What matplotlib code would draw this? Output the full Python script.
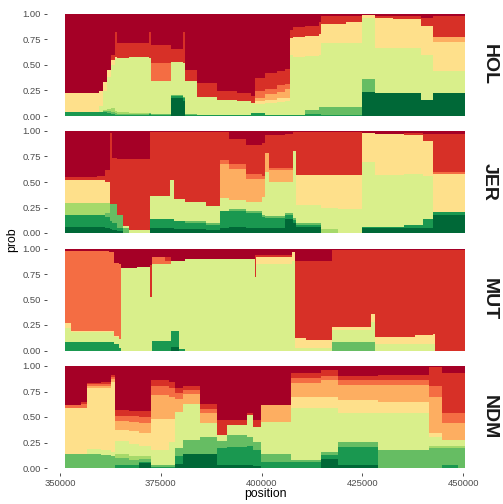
import numpy as np
import matplotlib.pyplot as plt

plt.rcParams['font.family'] = ['Liberation Sans', 'DejaVu Sans']

# colours for the 10 ancestry components (bottom -> top of the stack)
colors = ['#006837', '#1a9850', '#66bd63', '#a6d96a', '#d9ef8b',
          '#fee08b', '#fdae61', '#f46d43', '#d73027', '#a50026']
breeds = ['HOL', 'JER', 'MUT', 'NDM']
x_ticks = [350000, 375000, 400000, 425000, 450000]
y_ticks = [0, 0.25, 0.5, 0.75, 1.0]

# each row: cumulative top of components 1..9 (component 10 tops out at 1)
hol_pos = [351200, 359700, 360700, 361600, 362600, 363600, 364100, 367100, 372100,
           372600, 377500, 380500, 381000, 384000, 388900, 393900, 397400, 398400,
           400800, 403800, 405800, 407100, 407800, 410700, 414200, 414700, 421000,
           424800, 428100, 432600, 439500, 442500, 450500]
hol_cum = [
    [0, .04, .04, .04, .04, .23, .23, .23, .23],
    [0, .04, .04, .04, .10, .25, .25, .25, .25],
    [0, .04, .05, .06, .25, .33, .33, .33, .33],
    [0, .03, .05, .07, .38, .45, .45, .45, .45],
    [0, .02, .04, .08, .50, .55, .55, .55, .60],
    [0, .01, .03, .05, .56, .58, .58, .58, .82],
    [0, .01, .02, .04, .57, .57, .57, .57, .72],
    [0, .01, .02, .03, .575, .575, .575, .575, .72],
    [0, .02, .03, .03, .57, .57, .57, .57, .82],
    [0, .01, .02, .02, .34, .34, .34, .52, .70],
    [.18, .20, .21, .21, .53, .53, .53, .53, .66],
    [.15, .18, .19, .19, .52, .52, .52, .52, .82],
    [0, .01, .02, .02, .34, .34, .34, .34, .45],
    [0, .01, .01, .01, .19, .19, .19, .19, .32],
    [0, .01, .01, .01, .16, .16, .16, .16, .25],
    [0, .01, .01, .01, .15, .15, .15, .15, .23],
    [0, .03, .03, .03, .13, .13, .13, .13, .20],
    [0, .03, .03, .03, .12, .15, .18, .25, .37],
    [0, .01, .01, .01, .13, .16, .22, .26, .42],
    [0, .01, .01, .01, .14, .18, .24, .30, .44],
    [0, .01, .01, .01, .15, .18, .26, .31, .46],
    [0, .01, .01, .01, .60, .76, .76, .76, .84],
    [0, .01, .01, .01, .58, .77, .77, .77, .87],
    [0, .02, .06, .06, .59, .78, .78, .78, .88],
    [0, .02, .09, .09, .60, .80, .80, .80, .92],
    [0, .01, .09, .09, .72, .90, .90, .90, .98],
    [0, .01, .09, .09, .72, .92, .92, .92, .98],
    [.24, .24, .36, .36, .96, .99, .99, .99, .99],
    [.23, .23, .23, .23, .67, .96, .96, .96, .98],
    [.23, .23, .23, .23, .67, .95, .95, .95, .98],
    [.16, .16, .16, .16, .60, .88, .88, .88, .96],
    [.225, .225, .225, .225, .44, .73, .77, .77, .98],
    [.225, .225, .225, .225, .44, .73, .77, .77, .98],
]

jer_pos = [351200, 359200, 361200, 362500, 362900, 364200, 365700, 367200, 372300,
           377200, 378200, 381100, 386100, 389600, 392000, 396000, 400000, 400900,
           401900, 405800, 407800, 408600, 414700, 419000, 424800, 428100, 435200,
           440100, 442500, 450500]
jer_cum = [
    [.06, .18, .18, .29, .29, .52, .52, .52, .55],
    [.06, .18, .18, .29, .29, .52, .52, .52, .56],
    [.05, .16, .20, .29, .29, .50, .50, .50, .62],
    [.04, .12, .28, .28, .28, .28, .28, .28, .98],
    [.03, .10, .28, .28, .28, .28, .28, .28, .74],
    [.02, .05, .18, .18, .18, .18, .18, .18, .73],
    [0, 0, .05, .05, .07, .07, .07, .07, .73],
    [0, 0, 0, 0, .03, .03, .03, .03, .73],
    [.05, .14, .14, .14, .36, .36, .36, .36, .99],
    [.05, .14, .14, .14, .52, .52, .52, .52, .99],
    [.04, .12, .12, .12, .33, .33, .33, .33, .99],
    [.04, .10, .12, .12, .30, .30, .30, .30, .99],
    [.03, .08, .10, .10, .26, .26, .26, .26, .99],
    [.05, .22, .22, .22, .34, .34, .68, .72, .99],
    [.06, .22, .24, .24, .32, .32, .63, .68, .92],
    [.05, .20, .22, .22, .30, .30, .53, .58, .86],
    [.05, .16, .18, .18, .35, .35, .53, .56, .88],
    [.05, .15, .17, .17, .60, .60, .78, .78, .96],
    [.05, .15, .17, .17, .50, .50, .62, .64, .96],
    [.14, .18, .20, .20, .50, .50, .62, .64, .97],
    [.10, .13, .15, .15, .80, .80, .80, .80, .99],
    [.06, .08, .10, .10, .27, .57, .57, .57, .99],
    [0, 0, 0, .04, .25, .57, .57, .57, .99],
    [0, 0, 0, 0, .24, .57, .57, .57, .99],
    [.05, .06, .06, .06, .70, .98, .98, .98, .98],
    [.05, .06, .06, .06, .57, .97, .97, .97, .97],
    [.05, .08, .08, .08, .58, .96, .96, .96, .98],
    [.05, .14, .14, .14, .56, .90, .90, .90, .97],
    [.18, .21, .21, .21, .21, .58, .58, .60, .97],
    [.18, .21, .21, .21, .21, .58, .58, .60, .97],
]

mut_pos = [351200, 352700, 362200, 363500, 364700, 365200, 369000, 372300, 372700,
           376100, 377600, 379600, 381100, 398300, 398700, 407600, 408300, 411100,
           417500, 427200, 428000, 438000, 442400, 443100, 450500]
mut_cum = [
    [0, .085, .085, .085, .22, .27, .27, .98, .98],
    [0, .085, .085, .085, .18, .19, .19, .98, .98],
    [0, .085, .085, .085, .18, .19, .19, .97, .97],
    [0, .06, .06, .06, .13, .14, .14, .86, .86],
    [0, .02, .02, .02, .11, .11, .11, .85, .85],
    [0, 0, 0, 0, .81, .81, .81, .81, .81],
    [0, 0, 0, 0, .82, .82, .82, .82, .82],
    [0, 0, 0, 0, .52, .52, .52, .52, .84],
    [0, .09, .09, .09, .85, .85, .85, .92, .92],
    [0, .09, .09, .09, .85, .85, .85, .88, .92],
    [.03, .19, .19, .19, .88, .88, .88, .88, .88],
    [0, .01, .01, .01, .88, .88, .88, .88, .88],
    [0, 0, 0, 0, .90, .90, .90, .90, .90],
    [0, 0, 0, 0, .72, .72, .72, .72, .94],
    [0, 0, 0, 0, .85, .92, .92, .92, .94],
    [0, 0, 0, 0, .88, .97, .97, .97, .97],
    [0, 0, 0, 0, .02, .12, .12, .12, .88],
    [0, 0, 0, 0, .02, .10, .10, .10, .88],
    [0, 0, .08, .08, .20, .23, .23, .23, .985],
    [0, 0, .08, .08, .28, .36, .36, .36, .985],
    [0, 0, 0, 0, .06, .13, .13, .13, .99],
    [0, 0, 0, 0, .06, .15, .15, .15, .99],
    [0, 0, 0, 0, .06, .16, .16, .16, .99],
    [0, 0, 0, 0, 0, 0, 0, 0, .99],
    [0, 0, 0, 0, 0, 0, 0, 0, .99],
]

ndm_pos = [351200, 355200, 356700, 360200, 362700, 363600, 367100, 369600, 372600,
           377100, 378600, 380600, 384800, 389000, 391500, 396400, 397900, 399800,
           407200, 414700, 418900, 428900, 441500, 444600, 448800, 450500]
ndm_cum = [
    [0, 0, .14, .14, .14, .585, .585, .62, .62],
    [0, 0, .14, .14, .14, .585, .585, .63, .65],
    [0, 0, .14, .14, .19, .78, .80, .82, .83],
    [0, 0, .13, .13, .18, .78, .80, .82, .84],
    [0, 0, .12, .12, .16, .84, .87, .89, .91],
    [0, .03, .10, .14, .26, .37, .46, .51, .57],
    [0, .03, .08, .12, .24, .36, .45, .51, .56],
    [.05, .06, .09, .12, .22, .34, .44, .50, .56],
    [0, .01, .03, .03, .18, .48, .72, .80, .86],
    [0, .01, .03, .03, .25, .48, .70, .78, .84],
    [.04, .12, .20, .20, .55, .55, .68, .74, .78],
    [.14, .14, .27, .27, .63, .63, .73, .76, .80],
    [.14, .14, .30, .30, .44, .44, .54, .58, .63],
    [.03, .20, .26, .26, .32, .32, .32, .32, .47],
    [.03, .21, .32, .32, .42, .42, .42, .42, .47],
    [.03, .22, .30, .30, .52, .52, .52, .52, .54],
    [.02, .18, .25, .25, .40, .40, .40, .40, .47],
    [0, .06, .14, .14, .45, .45, .62, .62, .62],
    [0, .06, .08, .08, .585, .70, .83, .88, .93],
    [.09, .13, .16, .16, .585, .70, .86, .90, .96],
    [.03, .21, .25, .25, .54, .67, .81, .86, .90],
    [0, 0, .18, .18, .54, .65, .81, .86, .91],
    [0, 0, .20, .22, .30, .34, .70, .80, .99],
    [0, .03, .20, .22, .27, .27, .44, .54, .93],
    [0, 0, .20, .22, .27, .27, .44, .54, .93],
    [0, 0, .20, .22, .27, .27, .44, .54, .93],
]

panels = [(hol_pos, hol_cum), (jer_pos, jer_cum), (mut_pos, mut_cum), (ndm_pos, ndm_cum)]

W, H = 503, 504
fig = plt.figure(figsize=(W / 100, H / 100), dpi=100)

# pixel layout (ggplot facet_grid look)
left_px, right_px = 47, 483
one_px = [14, 131, 248.5, 366]   # y pixel of prob = 1.00 in each panel
unit = 102                        # pixels per 1.0 of prob
xlim = (346777, 454885)

for k, (breed, (pos, cum)) in enumerate(zip(breeds, panels)):
    top = one_px[k] - 0.05 * unit
    bot = one_px[k] + 1.05 * unit
    ax = fig.add_axes([left_px / W, 1 - bot / H, (right_px - left_px) / W, (bot - top) / H])
    pos = np.array(pos)
    cum = np.array(cum)
    # draw from the top component down, each filled from 0, so no seams show
    ax.fill_between(pos, 0, 1, step='post', color=colors[9], lw=0)
    for i in range(8, -1, -1):
        ax.fill_between(pos, 0, cum[:, i], step='post', color=colors[i], lw=0)

    ax.set_xlim(*xlim)
    ax.set_ylim(-0.05, 1.05)
    for s in ax.spines.values():
        s.set_visible(False)
    ax.set_yticks(y_ticks)
    ax.set_yticklabels(['%.2f' % v for v in y_ticks])
    ax.tick_params(labelsize=6.8, labelcolor='#4d4d4d', color='#333333',
                   length=2.5, width=0.6, pad=2)
    if k == 3:
        ax.set_xticks(x_ticks)
        ax.set_xticklabels([str(v) for v in x_ticks])
    else:
        ax.set_xticks([])
    fig.text(489 / W, 1 - (one_px[k] + 0.5 * unit) / H, breed, rotation=270,
             ha='center', va='center', fontsize=14, fontweight='bold', color='#1a1a1a')

fig.text(12 / W, 1 - 240 / H, 'prob', rotation=90, ha='center', va='center', fontsize=8.8)
fig.text(265 / W, 1 - 494 / H, 'position', ha='center', va='center', fontsize=8.8)

fig.savefig('out.png', dpi=100)
